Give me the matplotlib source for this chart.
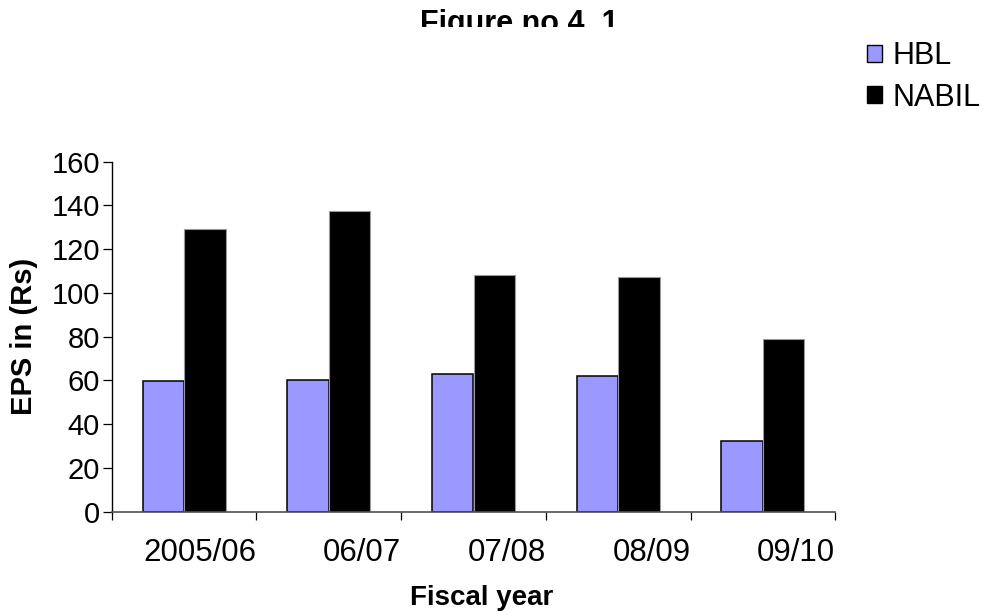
import matplotlib
matplotlib.use("Agg")
import matplotlib.pyplot as plt
from matplotlib.patches import Patch
from matplotlib.transforms import Bbox
import numpy as np

plt.rcParams['font.family'] = ['Liberation Sans', 'DejaVu Sans']

title = "Figure no 4. 1"
categories = ["2005/06", "06/07", "07/08", "08/09", "09/10"]
series_names = ["HBL", "NABIL"]
hbl = [59.6, 60.3, 63.1, 62.2, 32.2]
nabil = [129.2, 137.4, 108.2, 107.3, 78.9]
y_ticks = [0, 20, 40, 60, 80, 100, 120, 140, 160]
xlabel = "Fiscal year"
ylabel = "EPS in (Rs)"

W, H = 983, 615
fig = plt.figure(figsize=(W / 100, H / 100), dpi=100)
ax = fig.add_axes([111.7 / W, (H - 511.7) / H, 723.6 / W, 350 / H])

n = len(categories)
centers = np.arange(n) + 0.5
w = 0.287
ax.bar(centers - w / 2, hbl, width=w, color="#9999FF", edgecolor="black",
       linewidth=1.1, label=series_names[0], zorder=2)
ax.bar(centers + w / 2, nabil, width=w, color="black", edgecolor="#9a9a9a",
       linewidth=0.8, label=series_names[1], zorder=2)

ax.set_xlim(0, n)
ax.set_ylim(0, 160)
ax.set_yticks(y_ticks)
ax.set_yticklabels([str(v) for v in y_ticks], fontsize=21)
ax.set_xticks(np.arange(n + 1))
ax.set_xticklabels([""] + categories, fontsize=22.5, ha="right")

ax.tick_params(axis="y", direction="out", length=6.5, width=0.9, pad=2, colors="black")
ax.tick_params(axis="x", direction="out", length=6, width=0.9, pad=13, colors="black")

for s in ["top", "right"]:
    ax.spines[s].set_visible(False)
ax.spines["left"].set_linewidth(1.0)
ax.spines["bottom"].set_linewidth(1.2)
ax.spines["bottom"].set_color("#505050")

ax.set_xlabel(xlabel, fontsize=20, fontweight="bold")
ax.xaxis.set_label_coords((482 - 111.7) / 723.6, -0.21)
ax.set_ylabel(ylabel, fontsize=21, fontweight="bold")
ax.yaxis.set_label_coords((38 - 111.7) / 723.6, 0.5)

t = fig.text(519 / W, 1 - 32 / H, title, fontsize=22, fontweight="bold",
             ha="center", va="baseline")
t.set_clip_box(Bbox.from_extents(0, H - 27, W, H))
t.set_clip_on(True)

handles = [Patch(facecolor="#9999FF", edgecolor="black", linewidth=1.0),
           Patch(facecolor="black", edgecolor="black", linewidth=1.0)]
fig.legend(handles, series_names, loc="upper left",
           bbox_to_anchor=(867 / W, 1 - 41 / H), frameon=False, fontsize=22,
           handlelength=0.49, handleheight=0.49, handletextpad=0.33,
           labelspacing=0.38, borderpad=0, borderaxespad=0)

fig.savefig("out.png", dpi=100)
